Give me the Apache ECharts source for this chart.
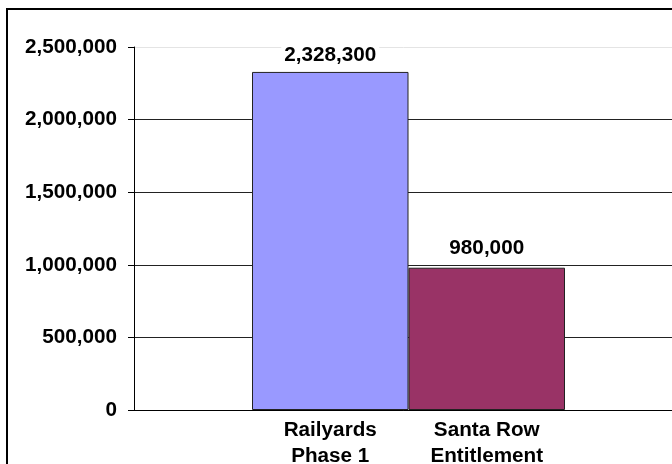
<!DOCTYPE html>
<html>
<head>
<meta charset="utf-8">
<script src="https://cdn.jsdelivr.net/npm/echarts@6/dist/echarts.min.js"></script>
<style>
  html, body { margin: 0; padding: 0; background: #fff; }
  #chart { width: 672px; height: 464px; }
</style>
</head>
<body>
<div id="chart"></div>
<script>
  // data
  var categories = ['Railyards\nPhase 1', 'Santa Row\nEntitlement'];
  var values = [2328300, 980000];
  var yTicks = [0, 500000, 1000000, 1500000, 2000000, 2500000];

  var barColors = ['#9999ff', '#993366'];
  var labelGap = [6, 9];
  var font = "'Liberation Sans', Arial, sans-serif";

  function fmt(v) {
    return Number(v).toLocaleString('en-US');
  }

  var chart = echarts.init(document.getElementById('chart'));

  var option = {
    animation: false,
    backgroundColor: '#fff',
    graphic: [{
      type: 'rect',
      shape: { x: 7, y: 9, width: 700, height: 500 },
      style: { fill: 'none', stroke: '#000', lineWidth: 2 },
      z: 100
    }],
    grid: [
      { left: 134, top: 47, width: 549, height: 363, outerBoundsMode: 'none' },
      { left: 252, top: 47, width: 313, height: 363, outerBoundsMode: 'none' }
    ],
    xAxis: [
      {
        gridIndex: 0,
        type: 'category',
        data: [''],
        axisLine: { show: true, lineStyle: { color: '#000', width: 1 } },
        axisTick: { show: false },
        axisLabel: { show: false },
        z: 5
      },
      {
        gridIndex: 1,
        type: 'category',
        data: categories,
        axisLine: { show: false },
        axisTick: { show: false },
        axisLabel: {
          fontFamily: font,
          fontSize: 20.7,
          fontWeight: 'bold',
          color: '#000',
          lineHeight: 26.5,
          margin: 7,
          interval: 0
        }
      }
    ],
    yAxis: [
      {
        gridIndex: 0,
        type: 'value',
        min: yTicks[0],
        max: yTicks[yTicks.length - 1],
        interval: yTicks[1] - yTicks[0],
        axisLine: { show: true, lineStyle: { color: '#000', width: 1 } },
        axisTick: { show: true, length: 6, lineStyle: { color: '#000' } },
        axisLabel: {
          fontFamily: font,
          fontSize: 20.7,
          fontWeight: 'bold',
          color: '#000',
          margin: 17,
          formatter: fmt
        },
        splitLine: {
          show: true,
          lineStyle: { color: ['#000', '#222', '#222', '#222', '#222', '#e4e4e4'], width: 1 }
        }
      },
      {
        gridIndex: 1,
        type: 'value',
        min: yTicks[0],
        max: yTicks[yTicks.length - 1],
        show: false
      }
    ],
    series: [{
      type: 'bar',
      xAxisIndex: 1,
      yAxisIndex: 1,
      barWidth: '100%',
      data: values.map(function (v, i) {
        return {
          value: v,
          itemStyle: { color: barColors[i] },
          label: { distance: labelGap[i] }
        };
      }),
      itemStyle: { borderColor: '#222', borderWidth: 1 },
      label: {
        show: true,
        position: 'top',
        fontFamily: font,
        fontSize: 20.7,
        fontWeight: 'bold',
        color: '#000',
        backgroundColor: '#fff',
        padding: [2, 3, 0, 3],
        formatter: function (p) { return fmt(p.value); }
      }
    }]
  };

  chart.setOption(option);
</script>
</body>
</html>
